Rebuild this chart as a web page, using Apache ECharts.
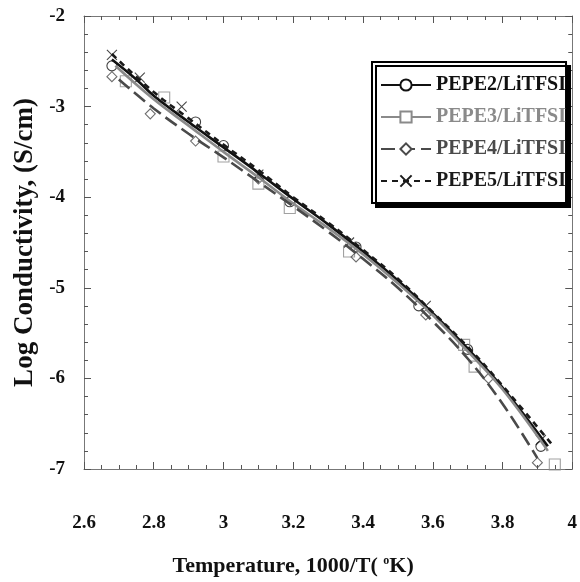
<!DOCTYPE html>
<html>
<head>
<meta charset="utf-8">
<script src="https://cdn.jsdelivr.net/npm/echarts@6/dist/echarts.min.js"></script>
<style>
html,body{margin:0;padding:0;background:#fff;}
#c{width:580px;height:582px;}
</style>
</head>
<body>
<div id="c"></div>
<script>
// ---- data (x = 1000/T, y = log conductivity) ----
const seriesNames = ['PEPE2/LiTFSI', 'PEPE3/LiTFSI', 'PEPE4/LiTFSI', 'PEPE5/LiTFSI'];

// fitted curves
const curvePEPE2 = [[2.68,-2.48],[2.75,-2.7],[2.8,-2.88],[2.9,-3.17],[3.0,-3.45],[3.1,-3.73],[3.2,-4.02],[3.3,-4.3],[3.4,-4.6],[3.5,-4.92],[3.6,-5.28],[3.7,-5.67],[3.8,-6.1],[3.93,-6.75]];
const curvePEPE3 = [[2.69,-2.55],[2.8,-2.92],[2.9,-3.21],[3.0,-3.5],[3.1,-3.78],[3.2,-4.07],[3.3,-4.34],[3.4,-4.63],[3.5,-4.95],[3.6,-5.3],[3.7,-5.7],[3.8,-6.12],[3.93,-6.8]];
const curvePEPE4 = [[2.7,-2.7],[2.8,-3.02],[2.9,-3.3],[3.0,-3.56],[3.1,-3.83],[3.2,-4.1],[3.3,-4.38],[3.4,-4.68],[3.5,-5.0],[3.6,-5.37],[3.7,-5.78],[3.8,-6.28],[3.9,-6.88]];
const curvePEPE5 = [[2.68,-2.42],[2.8,-2.84],[2.9,-3.13],[3.0,-3.42],[3.1,-3.7],[3.2,-4.0],[3.3,-4.28],[3.4,-4.58],[3.5,-4.9],[3.6,-5.27],[3.7,-5.65],[3.8,-6.08],[3.94,-6.72]];

// measured points (markers)
const pointsPEPE2 = [[2.68,-2.55],[2.92,-3.17],[3.0,-3.43],[3.19,-4.05],[3.38,-4.55],[3.56,-5.2],[3.7,-5.68],[3.91,-6.75]];
const pointsPEPE3 = [[2.72,-2.72],[2.83,-2.9],[3.0,-3.55],[3.1,-3.85],[3.19,-4.12],[3.36,-4.6],[3.69,-5.63],[3.72,-5.87],[3.95,-6.95]];
const pointsPEPE4 = [[2.68,-2.67],[2.79,-3.08],[2.92,-3.38],[3.1,-3.8],[3.38,-4.66],[3.58,-5.3],[3.76,-6.0],[3.9,-6.93]];
const pointsPEPE5 = [[2.68,-2.43],[2.76,-2.68],[2.88,-3.0],[3.1,-3.75],[3.36,-4.5],[3.58,-5.2],[3.91,-6.68]];

const xTicks = [2.6, 2.8, 3, 3.2, 3.4, 3.6, 3.8, 4];
const yTicks = [-7, -6, -5, -4, -3, -2];

// ---- styling ----
const FONT = '"Liberation Serif", "Times New Roman", serif';
const colors = ['#111111', '#8a8a8a', '#4a4a4a', '#1a1a1a'];
const dashes = ['solid', 'solid', [14, 6], [6, 5]];
const symbols = ['circle', 'rect', 'diamond', 'path://M0,0L10,10M10,0L0,10'];
const curves = [curvePEPE2, curvePEPE3, curvePEPE4, curvePEPE5];
const points = [pointsPEPE2, pointsPEPE3, pointsPEPE4, pointsPEPE5];

const series = [];
seriesNames.forEach((name, i) => {
  series.push({
    name: name,
    type: 'line',
    smooth: 0.4,
    data: curves[i],
    showSymbol: false,
    symbol: symbols[i],
    symbolSize: 10,
    z: 3,
    lineStyle: { color: colors[i], width: 2.6, type: dashes[i] },
    itemStyle: { color: '#ffffff', borderColor: colors[i], borderWidth: 1.2 },
    emphasis: { disabled: true }
  });
});
seriesNames.forEach((name, i) => {
  series.push({
    name: name + ' pts',
    type: 'scatter',
    data: points[i],
    symbol: symbols[i],
    symbolSize: i === 1 ? 11 : 10,
    z: 2,
    itemStyle: { color: 'rgba(255,255,255,0)', borderColor: colors[i], borderWidth: 1.1 },
    emphasis: { disabled: true }
  });
});

const axisLineStyle = { color: '#777', width: 1 };
const tickStyle = { color: '#555', width: 1 };
const fmt = v => String(+v.toFixed(1));

const option = {
  animation: false,
  backgroundColor: '#fff',
  grid: { left: 84, right: 4, top: 16, bottom: 107, containLabel: false },
  legend: {
    data: seriesNames.map((n, i) => ({ name: n, textStyle: { color: colors[i] } })),
    orient: 'vertical',
    left: 372,
    top: 62,
    itemWidth: 50,
    itemHeight: 14,
    itemGap: 12,
    padding: [13, 0, 12, 8],
    backgroundColor: '#fff',
    borderColor: '#000',
    borderWidth: 2,
    borderRadius: 0,
    shadowColor: '#000',
    shadowBlur: 0,
    shadowOffsetX: 4,
    shadowOffsetY: 4,
    textStyle: { fontFamily: FONT, fontWeight: 'bold', fontSize: 20 }
  },
  xAxis: [{
    type: 'value', min: xTicks[0], max: xTicks[xTicks.length - 1], interval: 0.2,
    position: 'bottom',
    name: 'Temperature, 1000/T( {sup|o}K)',
    nameLocation: 'middle', nameGap: 86,
    nameTextStyle: {
      fontFamily: FONT, fontWeight: 'bold', fontSize: 22, color: '#111', padding: [0, 70, 0, 0],
      rich: { sup: { fontFamily: FONT, fontWeight: 'bold', fontSize: 12, color: '#111', verticalAlign: 'top', padding: [0, 0, 10, 0] } }
    },
    axisLine: { show: true, onZero: false, lineStyle: axisLineStyle },
    axisTick: { show: true, inside: true, length: 7, lineStyle: tickStyle },
    minorTick: { show: true, splitNumber: 4, length: 4, lineStyle: tickStyle },
    splitLine: { show: false },
    axisLabel: { margin: 45, fontFamily: FONT, fontWeight: 'bold', fontSize: 19, color: '#111', formatter: fmt }
  }, {
    type: 'value', min: xTicks[0], max: xTicks[xTicks.length - 1], interval: 0.2,
    position: 'top',
    axisLine: { show: true, onZero: false, lineStyle: axisLineStyle },
    axisTick: { show: true, inside: true, length: 7, lineStyle: tickStyle },
    minorTick: { show: true, splitNumber: 4, length: 4, lineStyle: tickStyle },
    splitLine: { show: false },
    axisLabel: { show: false }
  }],
  yAxis: [{
    type: 'value', min: yTicks[0], max: yTicks[yTicks.length - 1], interval: 1,
    position: 'left',
    name: 'Log Conductivity, (S/cm)',
    nameLocation: 'middle', nameGap: 45, nameRotate: 90,
    nameTextStyle: { fontFamily: FONT, fontWeight: 'bold', fontSize: 27, color: '#111' },
    axisLine: { show: true, onZero: false, lineStyle: axisLineStyle },
    axisTick: { show: true, inside: true, length: 7, lineStyle: tickStyle },
    minorTick: { show: true, splitNumber: 5, length: 4, lineStyle: tickStyle },
    splitLine: { show: false },
    axisLabel: { margin: 19, fontFamily: FONT, fontWeight: 'bold', fontSize: 19, color: '#111', padding: [8, 0, 0, 0] }
  }, {
    type: 'value', min: yTicks[0], max: yTicks[yTicks.length - 1], interval: 1,
    position: 'right',
    axisLine: { show: true, onZero: false, lineStyle: axisLineStyle },
    axisTick: { show: true, inside: true, length: 7, lineStyle: tickStyle },
    minorTick: { show: true, splitNumber: 5, length: 4, lineStyle: tickStyle },
    splitLine: { show: false },
    axisLabel: { show: false }
  }],
  series: series
};

const chart = echarts.init(document.getElementById('c'), null, { renderer: 'canvas' });
chart.setOption(option);
</script>
</body>
</html>
